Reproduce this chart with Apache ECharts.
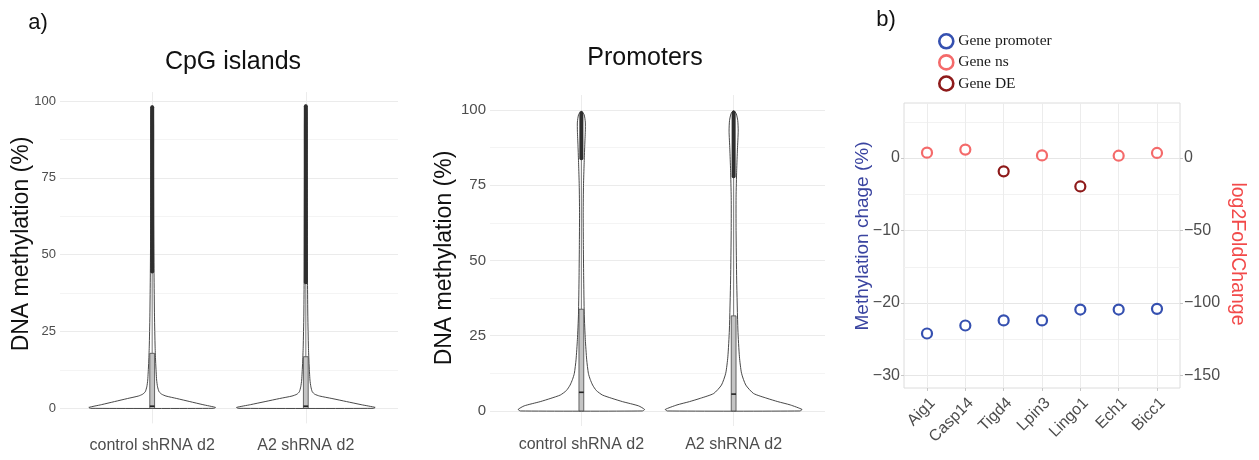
<!DOCTYPE html>
<html>
<head>
<meta charset="utf-8">
<title>DNA methylation</title>
<script src="https://cdn.jsdelivr.net/npm/echarts@6.0.0/dist/echarts.min.js"></script>
<style>
  html, body { margin: 0; padding: 0; background: #fff; }
  #chart { width: 1259px; height: 460px; }
</style>
</head>
<body>
<div id="chart"></div>
<script>
// ---- panel a: violins ----
const violinCategories = ['control shRNA d2', 'A2 shRNA d2']
const violinTicks = [0, 25, 50, 75, 100]
const violinMinorTicks = [12.5, 37.5, 62.5, 87.5]

// density outline: [methylation %, half width in category units]
const cpgControlDensity = [
  [0, 0.40], [0.3, 0.412], [1.2, 0.33], [2.2, 0.245], [3.2, 0.16], [4.0, 0.09], [4.6, 0.062],
  [5.4, 0.045], [7, 0.035], [9.2, 0.029], [14.6, 0.023], [20, 0.019], [30, 0.015], [44, 0.012],
  [60, 0.01], [80, 0.009], [92, 0.009], [97.5, 0.007], [98.5, 0]
]
const cpgA2Density = [
  [0, 0.44], [0.3, 0.451], [1.2, 0.36], [2.2, 0.265], [3.2, 0.17], [4.0, 0.09], [4.6, 0.058],
  [5.4, 0.042], [7, 0.033], [9.2, 0.027], [14.6, 0.021], [20, 0.017], [30, 0.013], [41, 0.011],
  [60, 0.01], [80, 0.009], [92, 0.009], [97.8, 0.007], [98.8, 0]
]
const promControlDensity = [
  [0, 0.40], [0.5, 0.415], [1.7, 0.375], [3.1, 0.27], [4.2, 0.2], [5.3, 0.138], [6.8, 0.098],
  [8.6, 0.074], [10.5, 0.058], [12.5, 0.046], [17, 0.035], [23.7, 0.026], [32, 0.019], [45, 0.015],
  [56, 0.013], [66, 0.012], [75, 0.014], [82, 0.018], [88, 0.022], [93, 0.026], [96, 0.026],
  [98.5, 0.018], [99.6, 0]
]
const promA2Density = [
  [0, 0.435], [0.5, 0.449], [2.0, 0.372], [3.1, 0.29], [4.2, 0.219], [5.8, 0.131], [8.6, 0.08],
  [12.5, 0.052], [18, 0.038], [26.9, 0.028], [43.5, 0.02], [60, 0.016], [71, 0.016], [80, 0.02],
  [87, 0.025], [93, 0.03], [96.5, 0.027], [98.8, 0.017], [99.8, 0]
]
// box stats: [q1, median, q3, upper whisker, top outlier]
const cpgBoxStats = [[0, 0.7, 17.9, 44.5, 98], [0, 0.7, 16.8, 41, 98.3]]
const promBoxStats = [[0, 6.2, 33.8, 84, 99], [0, 5.6, 31.6, 78, 99.2]]

// ---- panel b ----
const genes = ['Aig1', 'Casp14', 'Tigd4', 'Lpin3', 'Lingo1', 'Ech1', 'Bicc1']
const methylationChange = [-24.2, -23.1, -22.4, -22.4, -20.9, -20.9, -20.8]
const geneNs = [[1, 3.7], [2, 5.8], [4, 1.8], [6, 1.6], [7, 3.5]]
const geneDe = [[3, -9.2], [5, -19.6]]
const methTicks = [-30, -20, -10, 0]
const methMinorTicks = [-25, -15, -5, 5]
const foldTicks = [-150, -100, -50, 0]

const SANS = 'Liberation Sans, Arial, sans-serif'
const GREY = '#4d4d4d'
const minus = v => String(v).replace('-', '\u2212')
const noLine = { show: false, onZero: false }

function violinRenderer(profiles) {
  return function (params, api) {
    const x = api.value(0)
    const prof = profiles[api.value(1)]
    const pts = prof.map(d => api.coord([x + d[1], d[0]]))
    for (let i = prof.length - 2; i >= 0; i--) {
      pts.push(api.coord([x - prof[i][1], prof[i][0]]))
    }
    return {
      type: 'polygon',
      shape: { points: pts, smooth: 0.2 },
      style: { fill: '#fff', stroke: '#333', lineWidth: 0.9 }
    }
  }
}

function boxRenderer(stats) {
  return function (params, api) {
    const x = api.value(0)
    const s = stats[api.value(1)]
    const q1 = api.coord([x, s[0]])
    const med = api.coord([x, s[1]])
    const q3 = api.coord([x, s[2]])
    const wh = api.coord([x, s[3]])
    const top = api.coord([x, s[4]])
    const cx = q1[0]
    const hw = 2.4
    return {
      type: 'group',
      children: [
        { type: 'line', shape: { x1: cx, y1: q3[1], x2: cx, y2: wh[1] }, style: { stroke: '#555', lineWidth: 0.8 } },
        { type: 'rect', shape: { x: cx - hw, y: q3[1], width: hw * 2, height: q1[1] - q3[1] }, style: { fill: '#c4c4c4', stroke: '#444', lineWidth: 0.8 } },
        { type: 'line', shape: { x1: cx - hw, y1: med[1], x2: cx + hw, y2: med[1] }, style: { stroke: '#222', lineWidth: 1.6 } },
        { type: 'line', shape: { x1: cx, y1: wh[1], x2: cx, y2: top[1] }, style: { stroke: '#2e2e2e', lineWidth: 4, lineCap: 'round' } }
      ]
    }
  }
}

function violinX(gridIndex, margin) {
  return {
    type: 'value', gridIndex, min: 0.4, max: 2.6,
    axisLine: noLine,
    axisTick: { show: false, customValues: [1, 2] },
    axisLabel: { customValues: [1, 2], formatter: v => violinCategories[v - 1], color: GREY, fontFamily: SANS, fontSize: 16, margin },
    splitLine: { show: true, lineStyle: { color: '#ececec', width: 1 } }
  }
}
function violinY(gridIndex, min, max, fontSize) {
  return [{
    type: 'value', gridIndex, min, max,
    axisLine: noLine,
    axisTick: { show: false, customValues: violinTicks },
    axisLabel: { customValues: violinTicks, color: GREY, fontFamily: SANS, fontSize, margin: 4 },
    splitLine: { lineStyle: { color: '#ebebeb', width: 1 } }
  }, {
    type: 'value', gridIndex, min, max,
    axisLine: noLine,
    axisTick: { show: false, customValues: violinMinorTicks },
    axisLabel: { show: false },
    splitLine: { lineStyle: { color: '#f4f4f4', width: 1 } }
  }]
}

function ringSeries(name, yAxisIndex, color, data) {
  return {
    type: 'scatter', name, xAxisIndex: 2, yAxisIndex,
    symbol: 'circle', symbolSize: 10,
    itemStyle: { color: '#fff', borderColor: color, borderWidth: 2.2, opacity: 1 },
    data
  }
}

const chart = echarts.init(document.getElementById('chart'), null, { renderer: 'canvas' })
chart.setOption({
  animation: false,
  backgroundColor: '#fff',
  grid: [
    { left: 60, top: 92.1, width: 338, height: 331.3, outerBoundsMode: 'none' },
    { left: 490, top: 95, width: 335, height: 331, outerBoundsMode: 'none' },
    { left: 904, top: 103, width: 276, height: 285, show: true, borderColor: '#dcdcdc', borderWidth: 1, outerBoundsMode: 'none' }
  ],
  legend: {
    orient: 'vertical', left: 933, top: 28,
    itemWidth: 14, itemHeight: 14, itemGap: 4.5, itemTextGap: 4,
    data: ['Gene promoter', 'Gene ns', 'Gene DE'],
    itemStyle: { borderWidth: 2.6 },
    textStyle: { fontFamily: 'Liberation Serif, serif', fontSize: 15.5, color: '#1a1a1a' }
  },
  xAxis: [
    violinX(0, 14),
    violinX(1, 11),
    {
      type: 'value', gridIndex: 2, min: 0.4, max: 7.6,
      axisLine: noLine,
      axisTick: { show: true, customValues: [1, 2, 3, 4, 5, 6, 7], length: 3, lineStyle: { color: '#c8c8c8' } },
      axisLabel: {
        customValues: [1, 2, 3, 4, 5, 6, 7], formatter: v => genes[v - 1],
        rotate: 45, align: 'right', verticalAlign: 'top',
        color: GREY, fontFamily: SANS, fontSize: 16, margin: 7
      },
      splitLine: { show: true, lineStyle: { color: '#ececec' } }
    }
  ],
  yAxis: [
    ...violinY(0, -4.9, 102.9, 13),
    ...violinY(1, -5, 105, 15),
    {
      type: 'value', gridIndex: 2, position: 'left', min: -31.72, max: 7.59,
      axisLine: noLine,
      axisTick: { show: true, customValues: methTicks, length: 3, lineStyle: { color: '#c8c8c8' } },
      axisLabel: { customValues: methTicks, formatter: minus, color: GREY, fontFamily: SANS, fontSize: 16, margin: 4 },
      splitLine: { lineStyle: { color: '#e6e6e6' } }
    },
    {
      type: 'value', gridIndex: 2, position: 'left', min: -31.72, max: 7.59,
      axisLine: noLine,
      axisTick: { show: false, customValues: methMinorTicks },
      axisLabel: { show: false },
      splitLine: { lineStyle: { color: '#f2f2f2' } }
    },
    {
      type: 'value', gridIndex: 2, position: 'right', min: -158.6, max: 37.95,
      axisLine: noLine,
      axisTick: { show: true, customValues: foldTicks, length: 3, lineStyle: { color: '#c8c8c8' } },
      axisLabel: { customValues: foldTicks, formatter: minus, color: GREY, fontFamily: SANS, fontSize: 16, margin: 4 },
      splitLine: { show: false }
    }
  ],
  series: [
    { type: 'custom', name: 'cpg violin', xAxisIndex: 0, yAxisIndex: 0, data: [[1, 0], [2, 1]], renderItem: violinRenderer([cpgControlDensity, cpgA2Density]) },
    { type: 'custom', name: 'cpg box', xAxisIndex: 0, yAxisIndex: 0, data: [[1, 0], [2, 1]], renderItem: boxRenderer(cpgBoxStats) },
    { type: 'custom', name: 'prom violin', xAxisIndex: 1, yAxisIndex: 2, data: [[1, 0], [2, 1]], renderItem: violinRenderer([promControlDensity, promA2Density]) },
    { type: 'custom', name: 'prom box', xAxisIndex: 1, yAxisIndex: 2, data: [[1, 0], [2, 1]], renderItem: boxRenderer(promBoxStats) },
    ringSeries('Gene promoter', 4, '#3550b0', methylationChange.map((v, i) => [i + 1, v])),
    ringSeries('Gene ns', 6, '#f46a6a', geneNs),
    ringSeries('Gene DE', 6, '#8e1a1a', geneDe)
  ],
  graphic: [
    { type: 'text', x: 38, y: 23, style: { text: 'a)', font: '22px ' + SANS, fill: '#111', align: 'center', verticalAlign: 'middle' } },
    { type: 'text', x: 886, y: 20, style: { text: 'b)', font: '22px ' + SANS, fill: '#111', align: 'center', verticalAlign: 'middle' } },
    { type: 'text', x: 233, y: 62, style: { text: 'CpG islands', font: '25px ' + SANS, fill: '#111', align: 'center', verticalAlign: 'middle' } },
    { type: 'text', x: 645, y: 58, style: { text: 'Promoters', font: '25px ' + SANS, fill: '#111', align: 'center', verticalAlign: 'middle' } },
    { type: 'text', x: 22, y: 244, rotation: Math.PI / 2, style: { text: 'DNA methylation (%)', font: '23px ' + SANS, fill: '#111', align: 'center', verticalAlign: 'middle' } },
    { type: 'text', x: 445, y: 258, rotation: Math.PI / 2, style: { text: 'DNA methylation (%)', font: '23px ' + SANS, fill: '#111', align: 'center', verticalAlign: 'middle' } },
    { type: 'text', x: 863, y: 236, rotation: Math.PI / 2, style: { text: 'Methylation chage (%)', font: '19px ' + SANS, fill: '#3a44a0', align: 'center', verticalAlign: 'middle' } },
    { type: 'text', x: 1237, y: 254, rotation: -Math.PI / 2, style: { text: 'log2FoldChange', font: '19.5px ' + SANS, fill: '#f24a4a', align: 'center', verticalAlign: 'middle' } }
  ]
})
</script>
</body>
</html>
